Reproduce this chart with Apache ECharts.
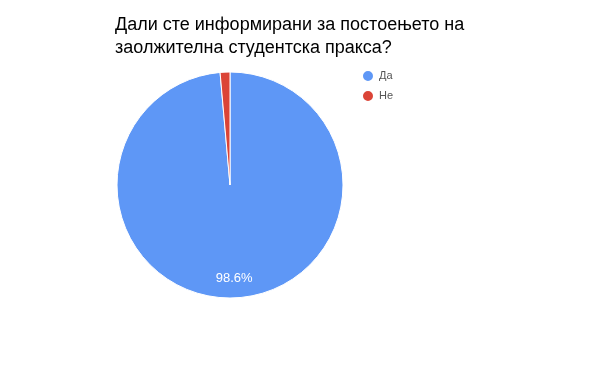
<!DOCTYPE html>
<html><head><meta charset="utf-8">
<script src="https://cdn.jsdelivr.net/npm/echarts@6/dist/echarts.min.js"></script>
<style>html,body{margin:0;padding:0;background:#fff}#c{width:600px;height:371px}</style>
</head><body><div id="c"></div>
<script>
var titleLines = ['Дали сте информирани за постоењето на', 'заолжителна студентска пракса?'];
var categories = ['Да', 'Не'];
var values = [98.6, 1.4];
var colors = ['#5e97f6', '#db4437'];

var chart = echarts.init(document.getElementById('c'));
var data = categories.map(function (c, i) { return { name: c, value: values[i], itemStyle: { color: colors[i] } }; });
var total = values.reduce(function (a, b) { return a + b; }, 0);
chart.setOption({
  animation: false,
  title: {
    text: titleLines.join('\n'),
    left: 110, top: 9, padding: 5,
    textStyle: { fontFamily: 'Liberation Sans, Arial', fontSize: 18, fontWeight: 'normal', color: '#000', lineHeight: 23 }
  },
  legend: {
    orient: 'vertical', left: 356, top: 64,
    icon: 'circle', itemWidth: 12, itemHeight: 12, itemGap: 6,
    textStyle: { fontFamily: 'Liberation Sans, Arial', fontSize: 11, color: '#555', lineHeight: 13 },
    data: categories
  },
  series: [{
    type: 'pie', center: [230, 185], radius: [0, 113],
    startAngle: 90, clockwise: true,
    itemStyle: { borderColor: '#fff', borderWidth: 1 },
    label: { show: false }, labelLine: { show: false },
    emphasis: { disabled: true },
    data: data
  }, {
    type: 'pie', center: [230, 185], radius: [0, 182],
    startAngle: 90, clockwise: true, silent: true,
    legendHoverLink: false,
    itemStyle: { color: 'rgba(0,0,0,0)' },
    label: {
      show: true, position: 'inside', color: '#fff',
      fontFamily: 'Liberation Sans, Arial', fontSize: 13,
      formatter: function (p) { return p.value / total >= 0.05 ? (p.value / total * 100).toFixed(1) + '%' : ''; }
    },
    labelLine: { show: false },
    data: categories.map(function (c, i) { return { name: c + ' ', value: values[i] }; })
  }]
});
</script></body></html>
